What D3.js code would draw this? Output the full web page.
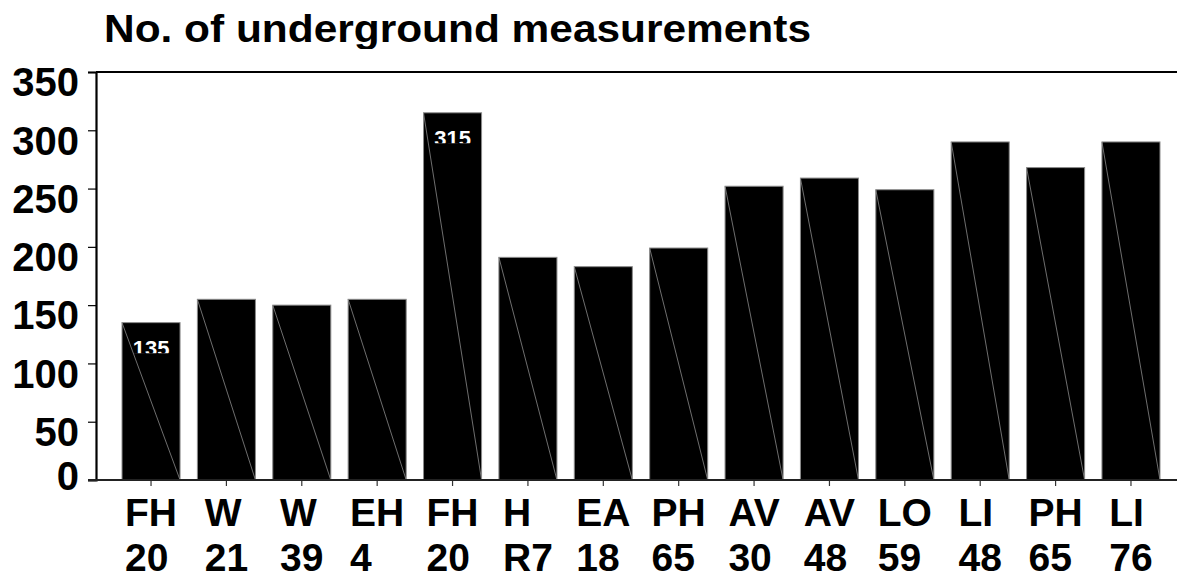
<!DOCTYPE html>
<html>
<head>
<meta charset="utf-8">
<script src="https://cdn.jsdelivr.net/npm/d3@7"></script>
<style>
  html, body { margin: 0; padding: 0; background: #fff; }
  svg { display: block; }
  text { font-family: "Liberation Sans", Arial, sans-serif; font-weight: bold; }
</style>
</head>
<body>
<svg id="chart" width="1177" height="575"></svg>
<script>
// ---- data ----
const title = "No. of underground measurements";
const categories = ["FH 20", "W 21", "W 39", "EH 4", "FH 20", "H R7", "EA 18",
                    "PH 65", "AV 30", "AV 48", "LO 59", "LI 48", "PH 65", "LI 76"];
const values = [135, 155, 150, 155, 315, 191, 183, 199, 252, 259, 249, 290, 268, 290];
const labelledBars = [0, 4];
const yTicks = [0, 50, 100, 150, 200, 250, 300, 350];

// ---- layout ----
const W = 1177, H = 575;
const mLeft = 96, mRight = 1186, mTop = 72, mBottom = 480;

const svg = d3.select("#chart");

const x = d3.scaleBand()
  .domain(d3.range(categories.length))
  .range([mLeft, mRight])
  .paddingInner(0.23)
  .paddingOuter(0.345);

const y = d3.scaleLinear().domain([0, 350]).range([mBottom, mTop]);

// title
const defs = svg.append("defs");
defs.append("clipPath").attr("id", "titleClip")
  .append("rect").attr("x", 0).attr("y", 0).attr("width", W).attr("height", 49);
svg.append("text")
  .attr("clip-path", "url(#titleClip)")
  .attr("x", 104).attr("y", 42)
  .attr("font-size", 38)
  .attr("textLength", 707).attr("lengthAdjust", "spacingAndGlyphs")
  .attr("fill", "#000")
  .text(title);

// bars
const bars = svg.append("g");
bars.selectAll("rect").data(values).join("rect")
  .attr("x", (d, i) => x(i))
  .attr("y", d => y(d))
  .attr("width", x.bandwidth())
  .attr("height", d => y(0) - y(d))
  .attr("fill", "#000")
  .attr("stroke", "#8a8a8a")
  .attr("stroke-width", 1);
bars.selectAll("line.diag").data(values).join("line")
  .attr("class", "diag")
  .attr("x1", (d, i) => x(i))
  .attr("y1", d => y(d))
  .attr("x2", (d, i) => x(i) + x.bandwidth())
  .attr("y2", y(0))
  .attr("stroke", "#8a8a8a")
  .attr("stroke-width", 0.8);

// value labels (clipped, as in the reference)
labelledBars.forEach(i => {
  const yt = y(values[i]);
  defs.append("clipPath").attr("id", "vl" + i)
    .append("rect").attr("x", x(i)).attr("y", yt + 16)
    .attr("width", x.bandwidth()).attr("height", 14.5);
  svg.append("text")
    .attr("clip-path", `url(#vl${i})`)
    .attr("x", x(i) + x.bandwidth() / 2)
    .attr("y", yt + 33)
    .attr("text-anchor", "middle")
    .attr("font-size", 22)
    .attr("fill", "#fff")
    .text(values[i]);
});

// top border line
svg.append("line")
  .attr("x1", mLeft).attr("x2", W).attr("y1", mTop).attr("y2", mTop)
  .attr("stroke", "#000").attr("stroke-width", 2);

// y axis
const yAxis = svg.append("g")
  .attr("transform", `translate(${mLeft},0)`)
  .call(d3.axisLeft(y).tickValues(yTicks).tickSize(8).tickPadding(9));
yAxis.select(".domain").attr("stroke", "#000").attr("stroke-width", 2.2);
yAxis.selectAll(".tick line").attr("stroke", "#000").attr("stroke-width", 1.2);
yAxis.selectAll(".tick text")
  .attr("font-size", 40)
  .attr("font-family", '"Liberation Sans", Arial, sans-serif')
  .attr("font-weight", "bold")
  .attr("fill", "#000")
  .attr("dy", d => d === 0 ? "0.245em" : "0.595em");

// x axis baseline + ticks
const xAxis = svg.append("g")
  .attr("transform", `translate(0,${mBottom})`)
  .call(d3.axisBottom(x).tickSize(6).tickFormat(""));
xAxis.select(".domain").remove();
xAxis.selectAll(".tick line").attr("stroke", "#333").attr("stroke-width", 1.2);
svg.append("line")
  .attr("x1", mLeft - 8).attr("x2", W).attr("y1", mBottom).attr("y2", mBottom)
  .attr("stroke", "#222").attr("stroke-width", 2);

// x labels, two lines, left aligned within a block centred on the tick
const xl = svg.append("g");
categories.forEach((c, i) => {
  const parts = c.split(" ");
  const t = xl.append("text")
    .attr("font-size", 39)
    .attr("fill", "#000");
  parts.forEach((p, k) => {
    t.append("tspan").attr("x", 0).attr("y", 526 + k * 45).text(p);
  });
  const w = d3.max(t.selectAll("tspan").nodes(), n => n.getComputedTextLength());
  t.attr("transform", `translate(${x(i) + x.bandwidth() / 2 - w / 2},0)`);
});
</script>
</body>
</html>
